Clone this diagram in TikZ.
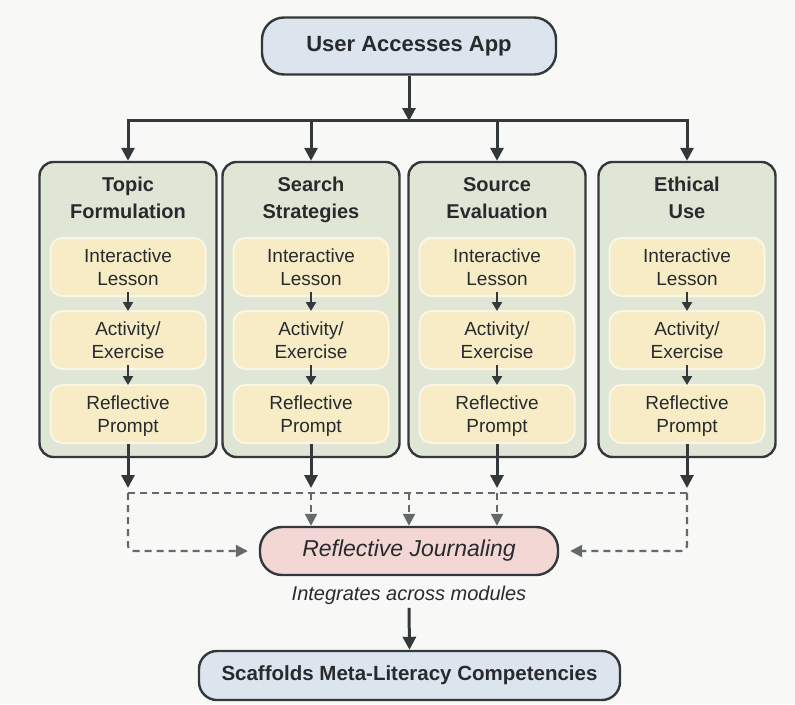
\documentclass[tikz,border=0pt]{standalone}
\usepackage{fontspec}
\setmainfont{Liberation Sans}
\usetikzlibrary{arrows.meta,positioning,calc}

\definecolor{bgcol}{HTML}{F8F8F7}
\definecolor{edgecol}{HTML}{33383A}
\definecolor{bluefill}{HTML}{DCE5EE}
\definecolor{greenfill}{HTML}{DFE6D6}
\definecolor{yellowfill}{HTML}{F7ECC6}
\definecolor{yellowedge}{HTML}{FBF5E4}
\definecolor{pinkfill}{HTML}{F3D7D5}
\definecolor{dashcol}{HTML}{646A6C}
\definecolor{textcol}{HTML}{272B2D}

% line strut that centres cap-height text in its line
\newcommand\capstrut{\rule[-.2\baselineskip]{0pt}{\baselineskip}}

\tikzset{
  x=1pt, y=-1pt,
  every node/.style={text=textcol},
  topbox/.style={draw=edgecol, line width=2.4pt, fill=bluefill, rounded corners=22pt,
    minimum width=294pt, minimum height=57pt,
    font=\fontsize{22}{26}\selectfont\bfseries},
  endbox/.style={draw=edgecol, line width=2.4pt, fill=bluefill, rounded corners=18pt,
    minimum width=421pt, minimum height=49pt,
    font=\fontsize{20.5}{24}\selectfont\bfseries},
  modbox/.style={draw=edgecol, line width=2.4pt, fill=greenfill, rounded corners=14pt,
    minimum width=177pt, minimum height=295pt},
  modtitle/.style={align=center, font=\fontsize{20}{27}\selectfont\bfseries},
  stagebox/.style={draw=yellowedge, line width=2pt, fill=yellowfill, rounded corners=12pt,
    minimum width=155pt, minimum height=58pt, align=center, inner sep=0pt,
    font=\fontsize{19}{23}\selectfont},
  journalbox/.style={draw=edgecol, line width=2.4pt, fill=pinkfill, rounded corners=22pt,
    minimum width=298pt, minimum height=48pt,
    font=\fontsize{23}{27}\selectfont\itshape},
  flow/.style={draw=edgecol, line width=3pt,
    -{Triangle[length=13pt,width=13pt]}},
  smallflow/.style={draw=edgecol, line width=2.4pt,
    -{Triangle[length=9pt,width=10pt]}},
  link/.style={draw=dashcol, line width=2.2pt, dash pattern=on 7pt off 5pt},
  linkarrow/.style={link, -{Triangle[length=12pt,width=12pt]}},
}

\begin{document}
\begin{tikzpicture}
\useasboundingbox[fill=bgcol] (0,0) rectangle (795,704);

% entry point and branching bar
\node[topbox] (app) at (409,46) {User Accesses App};
\coordinate (bar) at (409,121);
\coordinate (barL) at (128,120);
\coordinate (barR) at (687,120);
\draw[flow] (app.south) -- (bar);
\draw[edgecol, line width=3pt] ([xshift=-1.5pt]barL) -- ([xshift=1.5pt]barR);

% the four modules
\foreach \i/\x/\ta/\tb in {1/128/Topic/Formulation, 2/311/Search/Strategies,
                           3/497/Source/Evaluation, 4/687/Ethical/Use} {
  \node[modbox] (m\i) at (\x,309.5) {};
  \node[modtitle] (t\i) at (\x,197) {\capstrut\ta\\\capstrut\tb};
  \node[stagebox] (il\i) at (\x,267) {\capstrut Interactive\\\capstrut Lesson};
  \node[stagebox] (ae\i) at (\x,340) {\capstrut Activity/\\\capstrut Exercise};
  \node[stagebox] (rp\i) at (\x,414) {\capstrut Reflective\\\capstrut Prompt};
  \coordinate (in\i) at (\x,120);
  \coordinate (out\i) at (\x,488);
  \coordinate (d\i) at (\x,493);
  \draw[flow] (in\i) -- (m\i.north);
  \draw[smallflow] ([yshift=5pt]il\i.south) -- ([yshift=-1pt]ae\i.north);
  \draw[smallflow] ([yshift=5pt]ae\i.south) -- ([yshift=-1pt]rp\i.north);
  \draw[flow] (rp\i.south) -- (out\i);
}

% journaling hub
\node[journalbox] (rj) at (409,551) {Reflective Journaling};
\node[font=\fontsize{20}{24}\selectfont\itshape] (note) at (409,595) {Integrates across modules};
\node[endbox] (meta) at (409.5,675.5) {Scaffolds Meta-Literacy Competencies};

% dashed collection lines
\draw[link] (d1) -- (d4);
\draw[linkarrow, rounded corners=6pt, shorten >=11pt] (d1) |- (rj.west);
\draw[linkarrow, rounded corners=6pt, shorten >=11pt] (d4) |- (rj.east);
\coordinate (dm) at (409,493);
\draw[linkarrow] (d2) -- (d2 |- rj.north);
\draw[linkarrow] (dm) -- (rj.north);
\draw[linkarrow] (d3) -- (d3 |- rj.north);

% outcome
\draw[flow] (note.south) -- (meta.north);
\end{tikzpicture}
\end{document}
